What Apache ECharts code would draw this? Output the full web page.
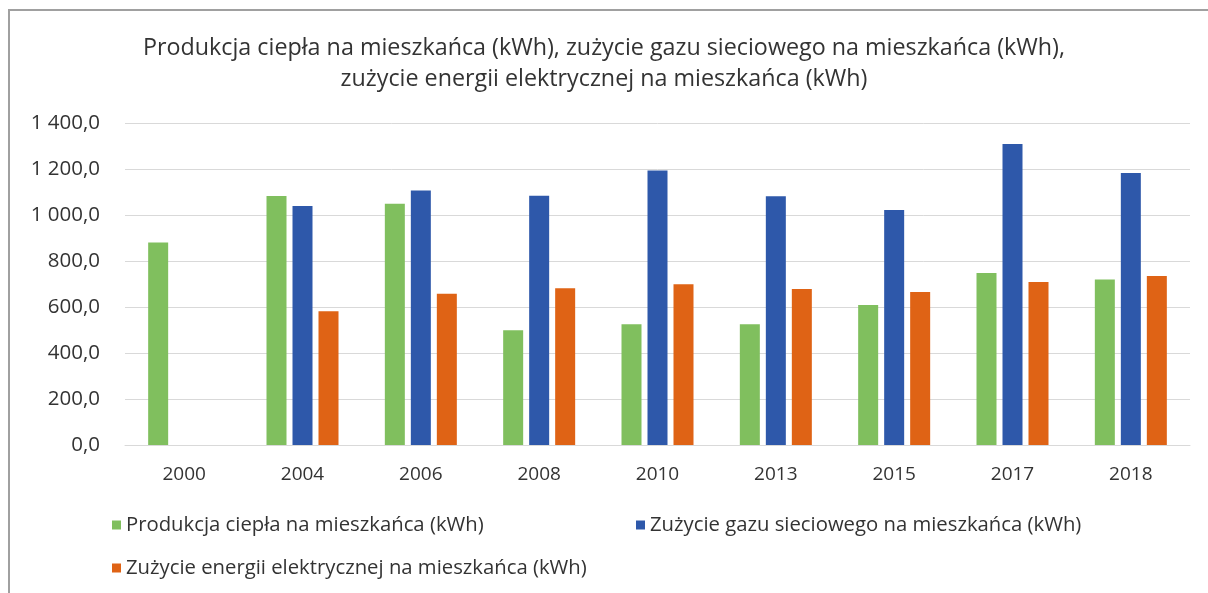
<!DOCTYPE html>
<html>
<head>
<meta charset="utf-8">
<script src="https://cdn.jsdelivr.net/npm/echarts@6/dist/echarts.min.js"></script>
<style>
  html, body { margin: 0; padding: 0; background: #fff; }
  #chart { width: 1208px; height: 593px; }
</style>
</head>
<body>
<div id="chart"></div>
<script>
// years on the x axis
var years = ['2000', '2004', '2006', '2008', '2010', '2013', '2015', '2017', '2018'];
// kWh per resident
var heatProd = [880, 1083, 1049, 499, 525, 525, 609, 748, 720];
var gasUse = [null, 1039, 1106, 1084, 1194, 1081, 1022, 1309, 1183];
var powerUse = [null, 581, 658, 681, 699, 678, 665, 709, 735];

var names = [
  'Produkcja ciepła na mieszkańca (kWh)',
  'Zużycie gazu sieciowego na mieszkańca (kWh)',
  'Zużycie energii elektrycznej na mieszkańca (kWh)'
];
var colors = ['#80BF5E', '#2E58AA', '#DF6315'];
var font = 'Open Sans';

function fmt(v) {
  var s = Math.round(v).toString();
  if (s.length > 3) s = s.slice(0, s.length - 3) + ' ' + s.slice(-3);
  return s + ',0';
}

var chart = echarts.init(document.getElementById('chart'));

function legendAt(i, left, top) {
  return {
    data: [names[i]],
    left: left,
    top: top,
    icon: 'rect',
    itemWidth: 9,
    itemHeight: 9,
    selectedMode: false,
    textStyle: { fontFamily: font, fontSize: 20.3, color: '#333' }
  };
}

function bar(i, data) {
  return {
    name: names[i],
    type: 'bar',
    data: data,
    barWidth: 20,
    barGap: '30%',
    itemStyle: { color: colors[i] }
  };
}

chart.setOption({
  animation: false,
  backgroundColor: '#fff',
  graphic: [{
    type: 'rect',
    shape: { x: 9, y: 10, width: 1230, height: 700 },
    style: { fill: 'none', stroke: '#a0a0a0', lineWidth: 2 }
  }],
  title: {
    text: 'Produkcja ciepła na mieszkańca (kWh), zużycie gazu sieciowego na mieszkańca (kWh),\nzużycie energii elektrycznej na mieszkańca (kWh)',
    left: 'center',
    top: 28,
    textStyle: {
      fontFamily: font,
      fontSize: 23.3,
      fontWeight: 'normal',
      color: '#333',
      lineHeight: 31
    }
  },
  legend: [
    legendAt(0, 107, 510),
    legendAt(1, 631, 510),
    legendAt(2, 107, 553)
  ],
  grid: { left: 125, right: 18, top: 123, bottom: 148 },
  xAxis: {
    type: 'category',
    data: years,
    axisLine: { lineStyle: { color: '#d9d9d9' } },
    axisTick: { show: false },
    axisLabel: { fontFamily: font, fontSize: 19, color: '#333', margin: 20 }
  },
  yAxis: {
    type: 'value',
    min: 0,
    max: 1400,
    interval: 200,
    axisLine: { show: false },
    axisTick: { show: false },
    splitLine: { lineStyle: { color: '#d9d9d9' } },
    axisLabel: {
      fontFamily: font, fontSize: 20.5, color: '#333', margin: 25,
      formatter: fmt
    }
  },
  series: [
    bar(0, heatProd),
    bar(1, gasUse),
    bar(2, powerUse)
  ]
});
</script>
</body>
</html>
